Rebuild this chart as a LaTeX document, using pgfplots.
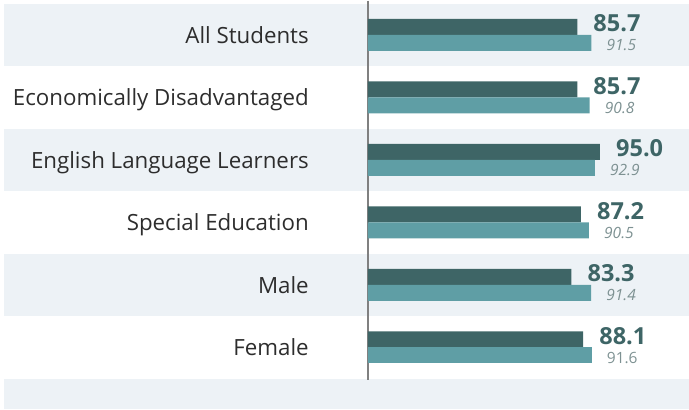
\documentclass[border=0pt]{standalone}
\usepackage{pgfplots}
\pgfplotsset{compat=1.18}
\usepackage{fontspec}
\setmainfont{Open Sans}
\definecolor{band}{RGB}{237,242,246}
\definecolor{darkbar}{RGB}{62,101,102}
\definecolor{lightbar}{RGB}{95,158,165}
\definecolor{graylab}{RGB}{125,145,146}
\definecolor{cattext}{RGB}{45,45,45}
\definecolor{axisgray}{RGB}{128,128,128}
\begin{document}
\begin{tikzpicture}
\begin{axis}[
  set layers,
  scale only axis, width=321pt, height=409pt,
  xmin=0, xmax=131.4, ymin=0.004, ymax=6.548,
  clip=false,
  axis line style={draw=none},
  major tick length=0pt,
  xtick=\empty,
  ytick={1,2,3,4,5,6},
  yticklabels={Female, Male, Special Education, English Language Learners, Economically Disadvantaged, All Students},
  yticklabel style={anchor=base east, inner sep=0pt, xshift=-59pt, yshift=-8.5pt, font=\fontsize{22.3}{26}\selectfont, text=cattext},
  xbar, bar width=0.256,
  point meta=explicit symbolic,
  nodes near coords,
  nodes near coords align=horizontal,
]
% background bands
\begin{pgfonlayer}{axis background}
\fill[band] (axis cs:-149,5.5) rectangle (axis cs:131.4,6.5);
\fill[band] (axis cs:-149,3.5) rectangle (axis cs:131.4,4.5);
\fill[band] (axis cs:-149,1.5) rectangle (axis cs:131.4,2.5);
\fill[band] (axis cs:-149,0.02) rectangle (axis cs:131.4,0.5);
\end{pgfonlayer}
\path (axis cs:-150.63,0.004) (axis cs:131.4,6.548);
% axis line
\draw[axisgray, line width=1.5pt] (axis cs:0,6.548) -- (axis cs:0,0.484);

\addplot[fill=darkbar, draw=none, bar shift=0.128,
  nodes near coords style={anchor=base west, inner sep=0pt, xshift=16pt, yshift=-5pt, font=\fontsize{23.5}{27}\selectfont\bfseries, text=darkbar}]
  coordinates {(85.7,6)[85.7] (85.7,5)[85.7] (95.0,4)[95.0] (87.2,3)[87.2] (83.3,2)[83.3] (88.1,1)[88.1]};
\addplot[fill=lightbar, draw=none, bar shift=-0.128,
  nodes near coords style={anchor=base west, inner sep=0pt, xshift=15pt, yshift=-8pt, font=\fontsize{15.5}{18}\selectfont\itshape, text=graylab}]
  coordinates {(91.5,6)[91.5] (90.8,5)[90.8] (92.9,4)[92.9] (90.5,3)[90.5] (91.4,2)[91.4]};
\addplot[fill=lightbar, draw=none, bar shift=-0.128,
  nodes near coords style={anchor=base west, inner sep=0pt, xshift=15pt, yshift=-8pt, font=\fontsize{15.5}{18}\selectfont, text=graylab}]
  coordinates {(91.6,1)[91.6]};
\end{axis}
\end{tikzpicture}
\end{document}
